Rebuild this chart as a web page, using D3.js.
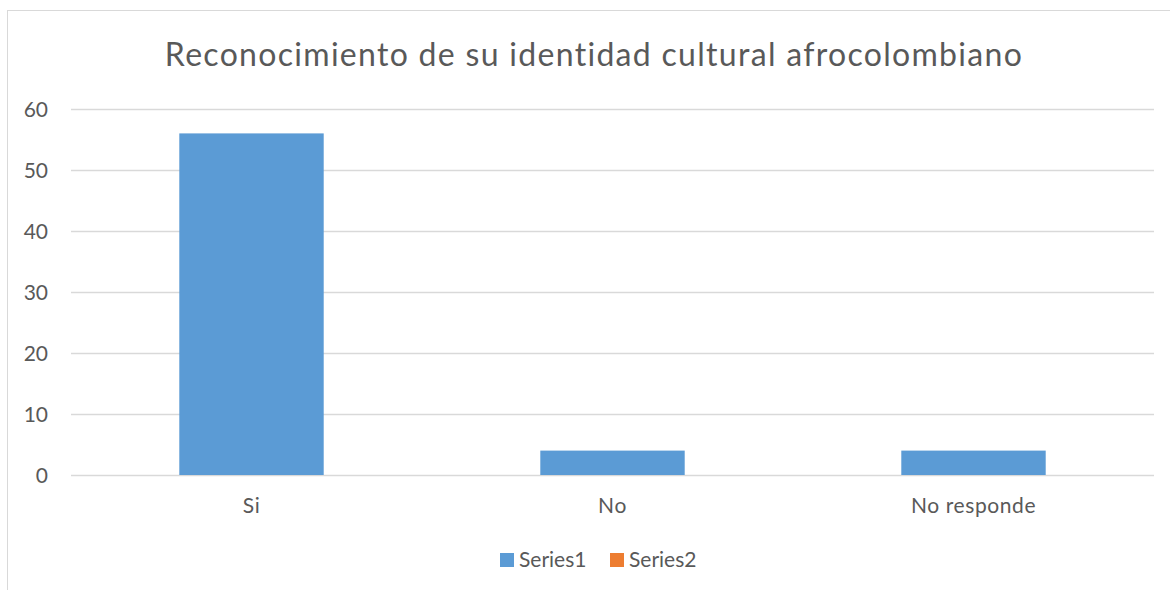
<!DOCTYPE html>
<html>
<head>
<meta charset="utf-8">
<script src="https://cdn.jsdelivr.net/npm/d3@7"></script>
<style>
  html, body { margin: 0; padding: 0; background: #fff; }
  svg { display: block; }
  text { font-family: Lato, "Open Sans", sans-serif; fill: #595959; }
</style>
</head>
<body>
<svg id="chart" width="1170" height="590"></svg>
<script>
const title = "Reconocimiento de su identidad cultural afrocolombiano";
const categories = ["Si", "No", "No responde"];
const series1 = [56, 4, 4];
const seriesNames = ["Series1", "Series2"];
const seriesColors = ["#5B9BD5", "#ED7D31"];
const yTicks = [0, 10, 20, 30, 40, 50, 60];

const svg = d3.select("#chart");
const W = 1170, H = 590;
const m = { left: 71, right: 16, top: 109, bottom: 115 };
const FONT = "Lato, 'Open Sans', sans-serif";

// outer chart border (partially cropped in reference)
svg.append("rect")
  .attr("x", 7.5).attr("y", 10.5)
  .attr("width", W + 10).attr("height", H + 10)
  .attr("fill", "none").attr("stroke", "#D9D9D9").attr("stroke-width", 1);

const x = d3.scaleBand().domain(categories).range([m.left, W - m.right]).paddingInner(0).paddingOuter(0);
const y = d3.scaleLinear().domain([0, 60]).range([H - m.bottom, m.top]);

// gridlines
svg.append("g").selectAll("line").data(yTicks).join("line")
  .attr("x1", m.left).attr("x2", W - m.right)
  .attr("y1", d => Math.round(y(d)) + 0.5).attr("y2", d => Math.round(y(d)) + 0.5)
  .attr("stroke", "#D9D9D9").attr("stroke-width", 1.5);

// y axis labels
const yAxis = d3.axisLeft(y).tickValues(yTicks).tickSize(0).tickPadding(0);
const gy = svg.append("g").attr("transform", `translate(${m.left - 23},0)`).call(yAxis);
gy.select(".domain").remove();
gy.selectAll("text").attr("font-size", 21).attr("fill", "#595959")
  .style("font-family", FONT).attr("dy", "0.35em");

// bars
const barW = x.bandwidth() * 0.4;
svg.append("g").selectAll("rect").data(series1).join("rect")
  .attr("x", (d, i) => x(categories[i]) + (x.bandwidth() - barW) / 2)
  .attr("width", barW)
  .attr("y", d => y(d))
  .attr("height", d => y(0) - y(d))
  .attr("fill", seriesColors[0]);

// x axis labels
const xAxis = d3.axisBottom(x).tickSize(0).tickPadding(0);
const gx = svg.append("g").attr("transform", `translate(0,${y(0)})`).call(xAxis);
gx.select(".domain").remove();
gx.selectAll("text").attr("font-size", 21).attr("fill", "#595959")
  .style("font-family", FONT).style("letter-spacing", "0.6px")
  .attr("y", 38).attr("dy", 0);

// title
svg.append("text")
  .attr("x", 594).attr("y", 66)
  .attr("text-anchor", "middle")
  .attr("font-size", 32)
  .style("letter-spacing", "1.3px")
  .text(title);

// legend
const legendX = [500, 610];
const lg = svg.append("g");
seriesNames.forEach((n, i) => {
  lg.append("rect").attr("x", legendX[i]).attr("y", 553).attr("width", 14).attr("height", 14).attr("fill", seriesColors[i]);
  lg.append("text").attr("x", legendX[i] + 19).attr("y", 567).attr("font-size", 21).text(n);
});
</script>
</body>
</html>
